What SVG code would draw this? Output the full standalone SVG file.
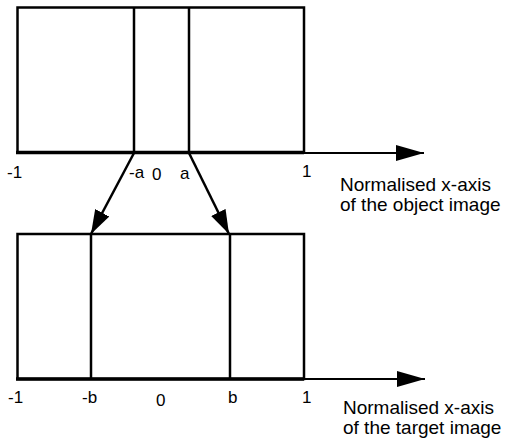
<svg xmlns="http://www.w3.org/2000/svg" width="511" height="442" viewBox="0 0 511 442">
<style>
.box{fill:none;stroke:#000;stroke-width:2.5}
.ln{stroke:#000;stroke-width:2.5;fill:none}
.ax{stroke:#000;stroke-width:2;fill:none}
.lbl{font-family:"Liberation Sans",Arial,sans-serif;font-size:17px;fill:#000}
.cap{font-family:"Liberation Sans",Arial,sans-serif;font-size:19px;fill:#000}
</style>
<defs>
<marker id="ah" markerWidth="30" markerHeight="16" refX="28" refY="8" orient="auto" markerUnits="userSpaceOnUse">
<path d="M0,0 L28,8 L0,16 Z" fill="#000"/>
</marker>
<marker id="dh" markerWidth="26" markerHeight="18" refX="24" refY="9" orient="auto" markerUnits="userSpaceOnUse">
<path d="M0,1 L24,9 L0,17 Z" fill="#000"/>
</marker>
</defs>
<g id="top-box">
<rect class="box" x="17.5" y="7.5" width="286.5" height="145"/>
<line class="ln" x1="134" y1="7.5" x2="134" y2="152"/>
<line class="ln" x1="189" y1="7.5" x2="189" y2="152"/>
<line class="ln" x1="16" y1="152.5" x2="304" y2="152.5" style="stroke-width:3.5"/>
</g>
<g id="top-axis">
<line class="ax" x1="304" y1="153" x2="424" y2="153" marker-end="url(#ah)"/>
<text class="lbl" x="7" y="178">-1</text>
<text class="lbl" x="129" y="178">-a</text>
<text class="lbl" x="152" y="180">0</text>
<text class="lbl" x="180" y="179">a</text>
<text class="lbl" x="302" y="177">1</text>
<text class="cap" x="340" y="191">Normalised x-axis</text>
<text class="cap" x="340" y="211">of the object image</text>
</g>
<g id="bottom-box">
<rect class="box" x="17.5" y="234" width="286.5" height="145"/>
<line class="ln" x1="91" y1="234" x2="91" y2="379"/>
<line class="ln" x1="230" y1="234" x2="230" y2="379"/>
<line class="ln" x1="16" y1="379" x2="304" y2="379" style="stroke-width:3.5"/>
</g>
<g id="bottom-axis">
<line class="ax" x1="304" y1="379" x2="425" y2="379" marker-end="url(#ah)"/>
<text class="lbl" x="8" y="403">-1</text>
<text class="lbl" x="82" y="403">-b</text>
<text class="lbl" x="156" y="406">0</text>
<text class="lbl" x="228" y="403">b</text>
<text class="lbl" x="302" y="403">1</text>
<text class="cap" x="343" y="414">Normalised x-axis</text>
<text class="cap" x="343" y="434">of the target image</text>
</g>
<g id="connectors">
<line class="ln" x1="134" y1="153" x2="91" y2="234" marker-end="url(#dh)"/>
<line class="ln" x1="189" y1="153" x2="229" y2="234" marker-end="url(#dh)"/>
</g>
</svg>
